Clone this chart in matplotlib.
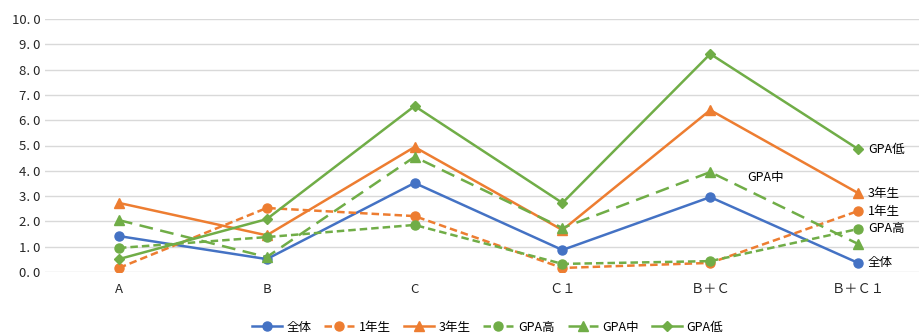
import numpy as np
import matplotlib.pyplot as plt

plt.rcParams['font.family'] = ['Noto Sans CJK JP', 'DejaVu Sans']

categories = ['A', 'B', 'C', 'Ｃ１', 'Ｂ＋Ｃ', 'Ｂ＋Ｃ１']
zentai = [1.42, 0.51, 3.52, 0.87, 2.96, 0.36]
nen1 = [0.16, 2.53, 2.21, 0.16, 0.36, 2.41]
nen3 = [2.73, 1.45, 4.94, 1.66, 6.40, 3.12]
gpa_hi = [0.95, 1.38, 1.86, 0.32, 0.43, 1.70]
gpa_mid = [2.05, 0.59, 4.55, 1.74, 3.95, 1.11]
gpa_lo = [0.51, 2.09, 6.56, 2.73, 8.62, 4.86]

blue = '#4472C4'
orange = '#ED7D31'
green = '#70AD47'
short = (0, (3, 1.6))
long_ = (0, (5.5, 3))

fig = plt.figure(figsize=(9.2, 3.35), dpi=100)
ax = fig.add_axes([45 / 920, 63 / 335, 887 / 920, 253 / 335])

x = np.arange(len(categories))
series = [
    ('全体', zentai, blue, '-', 'o', 6.5),
    ('1年生', nen1, orange, short, 'o', 6.5),
    ('3年生', nen3, orange, '-', '^', 7),
    ('GPA高', gpa_hi, green, short, 'o', 6.5),
    ('GPA中', gpa_mid, green, long_, '^', 7),
    ('GPA低', gpa_lo, green, '-', 'D', 5),
]
for name, vals, c, ls, m, ms in series:
    ax.plot(x, vals, color=c, linestyle=ls, linewidth=1.8, marker=m,
            markersize=ms, label=name)

# labels at the last point
for name, vals, c, ls, m, ms in series:
    if name == 'GPA中':
        ax.annotate(name, (x[-2], vals[-2]), xytext=(27, -4),
                    textcoords='offset points', fontsize=9, va='center')
    else:
        ax.annotate(name, (x[-1], vals[-1]), xytext=(7, 0),
                    textcoords='offset points', fontsize=9, va='center')

ax.set_xlim(-0.5, len(categories) - 0.5)
ax.set_ylim(0, 10)
ax.set_yticks(np.arange(0, 11, 1))
ax.set_yticklabels([f'{v:.1f}'.replace('.', '. ') for v in range(11)])
ax.set_xticks(x)
ax.set_xticklabels(categories)
ax.grid(axis='y', color='#D9D9D9', linewidth=1)
ax.set_axisbelow(True)
for s in ax.spines.values():
    s.set_visible(False)
ax.tick_params(length=0, labelsize=9.5, colors='#262626')
ax.tick_params(axis='x', pad=8)

fig.legend(loc='lower center', bbox_to_anchor=(0.53, -0.03), ncol=6,
           frameon=False, fontsize=9, handlelength=2.4, columnspacing=1.0,
           handletextpad=0.4)

fig.savefig('out.png', dpi=100)
